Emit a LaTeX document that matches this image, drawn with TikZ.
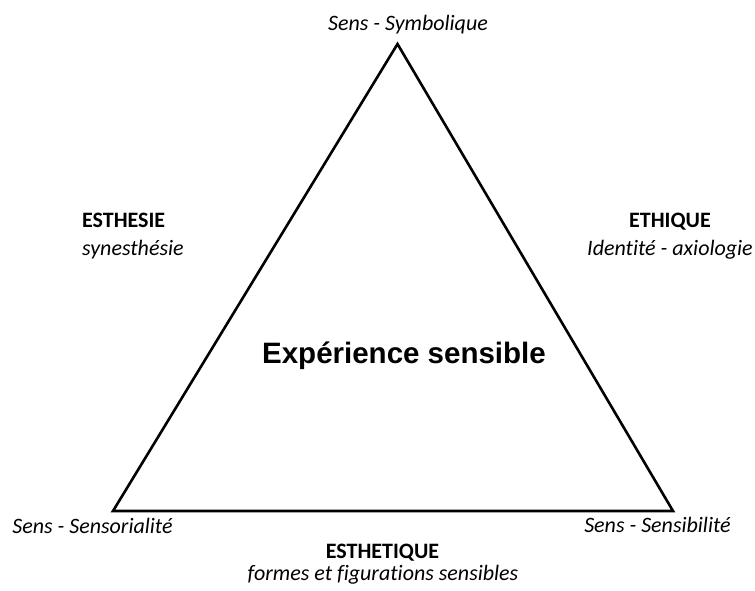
\documentclass[tikz,border=0pt]{standalone}
\usepackage{fontspec}
\setmainfont[Ligatures=NoCommon]{Carlito}
\newfontfamily\arialfont{Liberation Sans}
\begin{document}
\begin{tikzpicture}[x=1pt,y=-1pt,
  lbl/.style={inner sep=0pt,font=\fontsize{22}{26}\selectfont\itshape},
  ttl/.style={inner sep=0pt,font=\fontsize{22}{26}\selectfont\bfseries},
  side/.style={line width=2.6pt,line join=miter}]
\useasboundingbox (0,0) rectangle (755,591);
\coordinate (T) at (397.5,44);
\coordinate (L) at (113,511);
\coordinate (R) at (673,511);
\draw[side] (T) -- (L) -- (R) -- cycle;
\node[lbl,anchor=base] (top) at (408,31) {Sens - Symbolique};
\node[lbl,anchor=base] (bl) at (92.5,533) {Sens - Sensorialité};
\node[lbl,anchor=base] (br) at (657.5,532) {Sens - Sensibilité};
\node[ttl,anchor=base west] (esth) at (82,227) {ESTHESIE};
\node[lbl,anchor=base west] (syn) at (82,255) {synesthésie};
\node[ttl,anchor=base] (eth) at (670,227) {ETHIQUE};
\node[lbl,anchor=base] (ident) at (670,255) {Identité - axiologie};
\node[ttl,anchor=base] (esthet) at (382.5,558) {ESTHETIQUE};
\node[lbl,anchor=base] (formes) at (383,580) {formes et figurations sensibles};
\node[inner sep=0pt,anchor=base,font=\arialfont\bfseries\fontsize{29.5}{34}\selectfont] (center) at (404,363) {Expérience sensible};
\end{tikzpicture}
\end{document}
